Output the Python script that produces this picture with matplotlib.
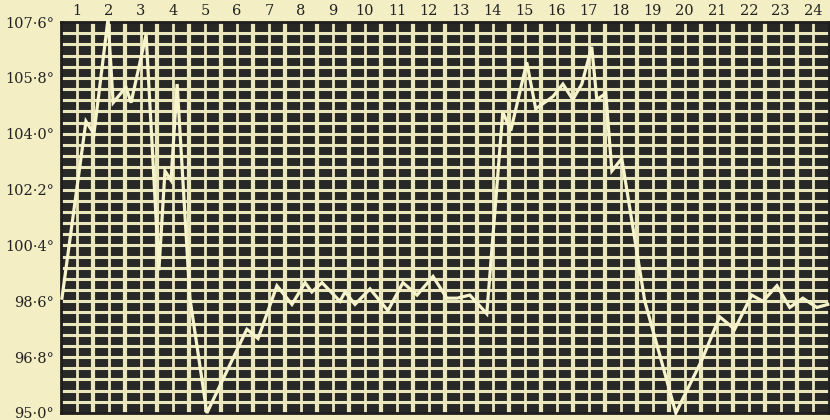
import matplotlib.pyplot as plt
import numpy as np

# temperature chart, 24 days; readings at fractional day positions
days = [0.03, 0.78, 1.03, 1.47, 1.63, 2.03, 2.19, 2.66, 3.06, 3.25, 3.44, 3.63,
        4.03, 4.56, 5.81, 6.16, 6.75, 7.22, 7.63, 7.84, 8.16, 8.72, 8.88, 9.19,
        9.66, 10.22, 10.69, 11.13, 11.63, 12.06, 12.38, 12.78, 13.31, 13.81,
        14.06, 14.56, 14.84, 15.38, 15.69, 16.0, 16.28, 16.59, 16.75, 17.03,
        17.22, 17.53, 18.25, 19.22, 20.03, 20.59, 21.06, 21.59, 21.94, 22.38,
        22.78, 23.19, 23.63, 23.97]
temps = [98.7, 104.4, 104.0, 107.7, 105.0, 105.5, 105.0, 107.2, 99.6, 102.8,
         102.5, 105.6, 98.7, 95.0, 97.7, 97.4, 99.1, 98.5, 99.2, 98.9, 99.2,
         98.6, 98.9, 98.5, 99.0, 98.3, 99.2, 98.8, 99.4, 98.7, 98.7, 98.8,
         98.2, 104.7, 104.1, 106.3, 104.8, 105.2, 105.6, 105.1, 105.6, 106.8,
         105.1, 105.3, 102.8, 103.2, 98.6, 95.0, 96.7, 98.1, 97.7, 98.8, 98.6,
         99.1, 98.4, 98.7, 98.4, 98.5]

day_labels = [str(i) for i in range(1, 25)]
y_ticks = [107.6, 105.8, 104.0, 102.2, 100.4, 98.6, 96.8, 95.0]
y_labels = ["107·6°", "105·8°", "104·0°", "102·2°", "100·4°", "98·6°", "96·8°", "95·0°"]

PAPER = "#f3eec3"
CELL = "#282827"
RULE = "#ebe7bd"

fig = plt.figure(figsize=(8.3, 4.2), dpi=100, facecolor=PAPER)
ax = fig.add_axes([0.0735, 0.0167, 0.925, 0.9309])
ax.set_facecolor(CELL)
ax.set_xlim(0, 24)
ax.set_ylim(95.0, 107.6)

# ruled grid: 35 rows of 0.36 deg, two columns per day
for k in range(1, 35):
    ax.axhline(95.0 + 0.36 * k, color=RULE, lw=2.2, zorder=1)
for k in range(1, 48):
    ax.axvline(k * 0.5, color=RULE, lw=3.0 if k % 2 == 0 else 2.0, zorder=1)

ax.plot(days, temps, color="#f7f4cc", lw=2.3, solid_joinstyle="miter",
        zorder=3, clip_on=False)

ax.set_xticks([d - 0.5 for d in range(1, 25)], day_labels)
ax.xaxis.tick_top()
ax.set_yticks(y_ticks, y_labels)
ax.tick_params(length=0, labelsize=10.5, colors="#222222")
ax.tick_params(axis="x", pad=3)
ax.tick_params(axis="y", pad=5)
for lab in ax.get_xticklabels() + ax.get_yticklabels():
    lab.set_family("DejaVu Serif")
for sp in ax.spines.values():
    sp.set_color("#1e1e1e")
    sp.set_linewidth(2.0)

fig.savefig("out.png", dpi=100, facecolor=PAPER)
